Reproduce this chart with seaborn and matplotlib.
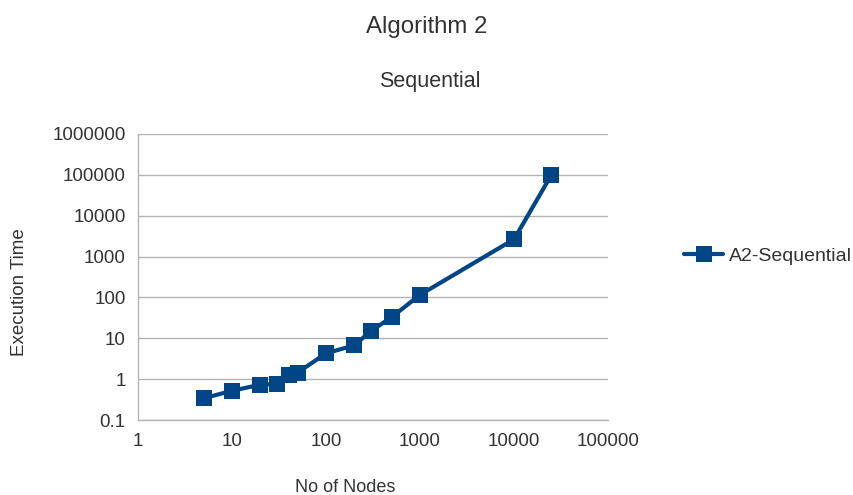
import matplotlib
matplotlib.use("Agg")
import matplotlib.pyplot as plt
import matplotlib.ticker as mticker
import seaborn as sns
import pandas as pd

nodes = [5, 10, 20, 30, 40, 50, 100, 200, 300, 500, 1000, 10000, 25000]
exec_time = [0.34, 0.52, 0.73, 0.76, 1.27, 1.45, 4.3, 6.7, 15, 33, 116, 2650, 100000]
series_name = "A2-Sequential"

x_ticks = [1, 10, 100, 1000, 10000, 100000]
y_ticks = [0.1, 1, 10, 100, 1000, 10000, 100000, 1000000]

sns.set_style("white")
plt.rcParams["font.family"] = ["Liberation Sans", "DejaVu Sans"]

df = pd.DataFrame({"No of Nodes": nodes, "Execution Time": exec_time, "series": series_name})

fig = plt.figure(figsize=(8.54, 4.95), dpi=100)
ax = fig.add_axes([0.1616, 0.1515, 0.5504, 0.5778])

blue = "#004586"
sns.lineplot(data=df, x="No of Nodes", y="Execution Time", hue="series",
             palette=[blue], marker="s", markersize=12, linewidth=3,
             markeredgewidth=0, ax=ax)

ax.set_xscale("log")
ax.set_yscale("log")
ax.set_xlim(1, 100000)
ax.set_ylim(0.1, 1000000)
ax.xaxis.set_major_locator(mticker.FixedLocator(x_ticks))
ax.yaxis.set_major_locator(mticker.FixedLocator(y_ticks))
ax.xaxis.set_minor_locator(mticker.NullLocator())
ax.yaxis.set_minor_locator(mticker.NullLocator())
ax.set_xticklabels([f"{v:g}" if v < 1 else f"{int(v)}" for v in x_ticks])
ax.set_yticklabels([f"{v:g}" if v < 1 else f"{int(v)}" for v in y_ticks])

ax.grid(axis="y", color="#b3b3b3", linewidth=1)
ax.set_axisbelow(True)
for s in ["top", "right"]:
    ax.spines[s].set_visible(False)
for s in ["left", "bottom"]:
    ax.spines[s].set_color("#b3b3b3")
    ax.spines[s].set_linewidth(1)
ax.tick_params(axis="both", which="major", direction="out", length=5,
               color="#b3b3b3", labelsize=13.5, labelcolor="#333333", pad=4)

ax.set_xlabel("No of Nodes", fontsize=13, color="#333333")
ax.set_ylabel("Execution Time", fontsize=13.5, color="#333333")
ax.xaxis.set_label_coords(0.44, -0.205)
ax.yaxis.set_label_coords(-0.234, 0.448)

fig.text(0.5, 0.946, "Algorithm 2", ha="center", va="center", fontsize=17.3, color="#333333")
fig.text(0.503, 0.836, "Sequential", ha="center", va="center", fontsize=15.5, color="#333333")

ax.legend(loc="center left", bbox_to_anchor=(1.1245, 0.573), frameon=False,
          fontsize=14, handlelength=2.0, handletextpad=0.3, labelcolor="#333333")

fig.savefig("out.png", dpi=100)
